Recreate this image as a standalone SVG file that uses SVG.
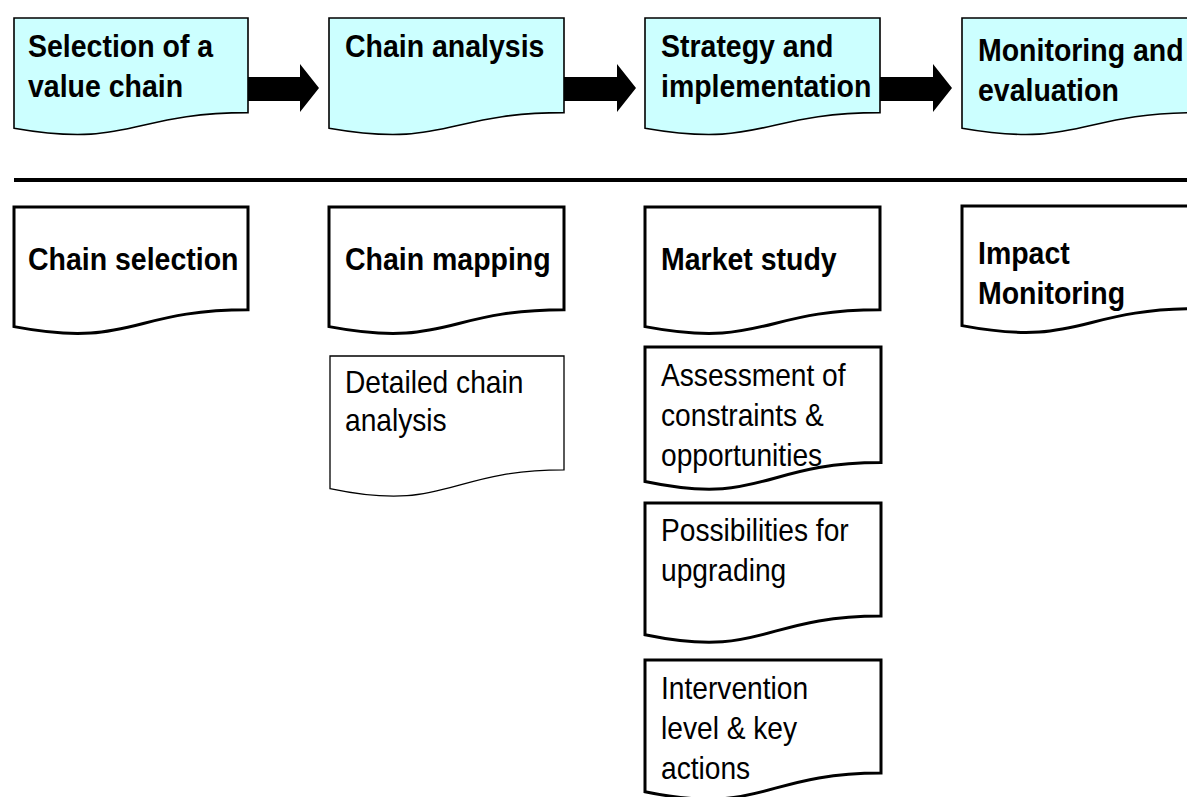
<svg xmlns="http://www.w3.org/2000/svg" width="1187" height="797" viewBox="0 0 1187 797">
<style>
.top{fill:#CCFFFF;stroke:#000;stroke-width:1.6}
.doc{fill:#fff;stroke:#000;stroke-width:3}
.thin{fill:#fff;stroke:#000;stroke-width:1.3}
.b{font-family:"Liberation Sans",Arial,sans-serif;font-weight:bold;font-size:32px;fill:#000}
.r{font-family:"Liberation Sans",Arial,sans-serif;font-size:32px;fill:#000}
.arr{fill:#000;stroke:none}
</style>
<rect width="1187" height="797" fill="#fff"/>
<g id="phase1">
<path class="top" d="M14,18 H248 V112.6 C131,112.6 131,148.7 14,128.2 Z"/>
<text class="b" transform="translate(28,57) scale(0.89,1)"><tspan x="0" y="0">Selection of a</tspan><tspan x="0" y="40">value chain</tspan></text>
</g>
<g id="phase2">
<path class="top" d="M329,18 H564 V112.6 C446.5,112.6 446.5,148.7 329,128.2 Z"/>
<text class="b" transform="translate(345,57) scale(0.89,1)"><tspan x="0" y="0">Chain analysis</tspan></text>
</g>
<g id="phase3">
<path class="top" d="M645,18 H880 V112.6 C762.5,112.6 762.5,148.7 645,128.2 Z"/>
<text class="b" transform="translate(661,57) scale(0.89,1)"><tspan x="0" y="0">Strategy and</tspan><tspan x="0" y="40">implementation</tspan></text>
</g>
<g id="phase4">
<path class="top" d="M962,18 H1197 V112.6 C1079.5,112.6 1079.5,148.7 962,128.2 Z"/>
<text class="b" transform="translate(978,61) scale(0.89,1)"><tspan x="0" y="0">Monitoring and</tspan><tspan x="0" y="40">evaluation</tspan></text>
</g>
<g id="connectors">
<path class="arr" d="M248,77 H300 V64 L319,88 L300,112 V101 H248 Z"/>
<path class="arr" d="M564,77 H617 V64 L636,88 L617,112 V101 H564 Z"/>
<path class="arr" d="M880,77 H933 V64 L952,88 L933,112 V101 H880 Z"/>
<line x1="14" y1="180" x2="1187" y2="180" stroke="#000" stroke-width="4"/>
</g>
<g id="chain-selection">
<path class="doc" d="M14,207 H248 V309.7 C131,309.7 131,348.8 14,326.6 Z"/>
<text class="b" transform="translate(28,270) scale(0.89,1)"><tspan x="0" y="0">Chain selection</tspan></text>
</g>
<g id="chain-mapping">
<path class="doc" d="M329,207 H564 V309.7 C446.5,309.7 446.5,348.8 329,326.6 Z"/>
<text class="b" transform="translate(345,270) scale(0.89,1)"><tspan x="0" y="0">Chain mapping</tspan></text>
</g>
<g id="market-study">
<path class="doc" d="M645,207 H880 V309.7 C762.5,309.7 762.5,348.8 645,326.6 Z"/>
<text class="b" transform="translate(661,270) scale(0.89,1)"><tspan x="0" y="0">Market study</tspan></text>
</g>
<g id="impact-monitoring">
<path class="doc" d="M962,206 H1197 V308.7 C1079.5,308.7 1079.5,347.8 962,325.6 Z"/>
<text class="b" transform="translate(978,264) scale(0.89,1)"><tspan x="0" y="0">Impact</tspan><tspan x="0" y="40">Monitoring</tspan></text>
</g>
<g id="detailed-chain-analysis">
<path class="thin" d="M330,356 H564 V469.9 C447,469.9 447,513.3 330,488.6 Z"/>
<text class="r" transform="translate(345,393) scale(0.88,1)"><tspan x="0" y="0">Detailed chain</tspan><tspan x="0" y="38">analysis</tspan></text>
</g>
<g id="assessment">
<path class="doc" d="M645,347 H881 V462.5 C763,462.5 763,506.5 645,481.5 Z"/>
<text class="r" transform="translate(661,386) scale(0.88,1)"><tspan x="0" y="0">Assessment of</tspan><tspan x="0" y="40">constraints &amp;</tspan><tspan x="0" y="80">opportunities</tspan></text>
</g>
<g id="possibilities">
<path class="doc" d="M645,503 H881 V616 C763,616 763,659.2 645,634.7 Z"/>
<text class="r" transform="translate(661,541) scale(0.88,1)"><tspan x="0" y="0">Possibilities for</tspan><tspan x="0" y="40">upgrading</tspan></text>
</g>
<g id="intervention">
<path class="doc" d="M645,660 H881 V773 C763,773 763,816.2 645,791.7 Z"/>
<text class="r" transform="translate(661,699) scale(0.88,1)"><tspan x="0" y="0">Intervention</tspan><tspan x="0" y="40">level &amp; key</tspan><tspan x="0" y="80">actions</tspan></text>
</g>
</svg>
